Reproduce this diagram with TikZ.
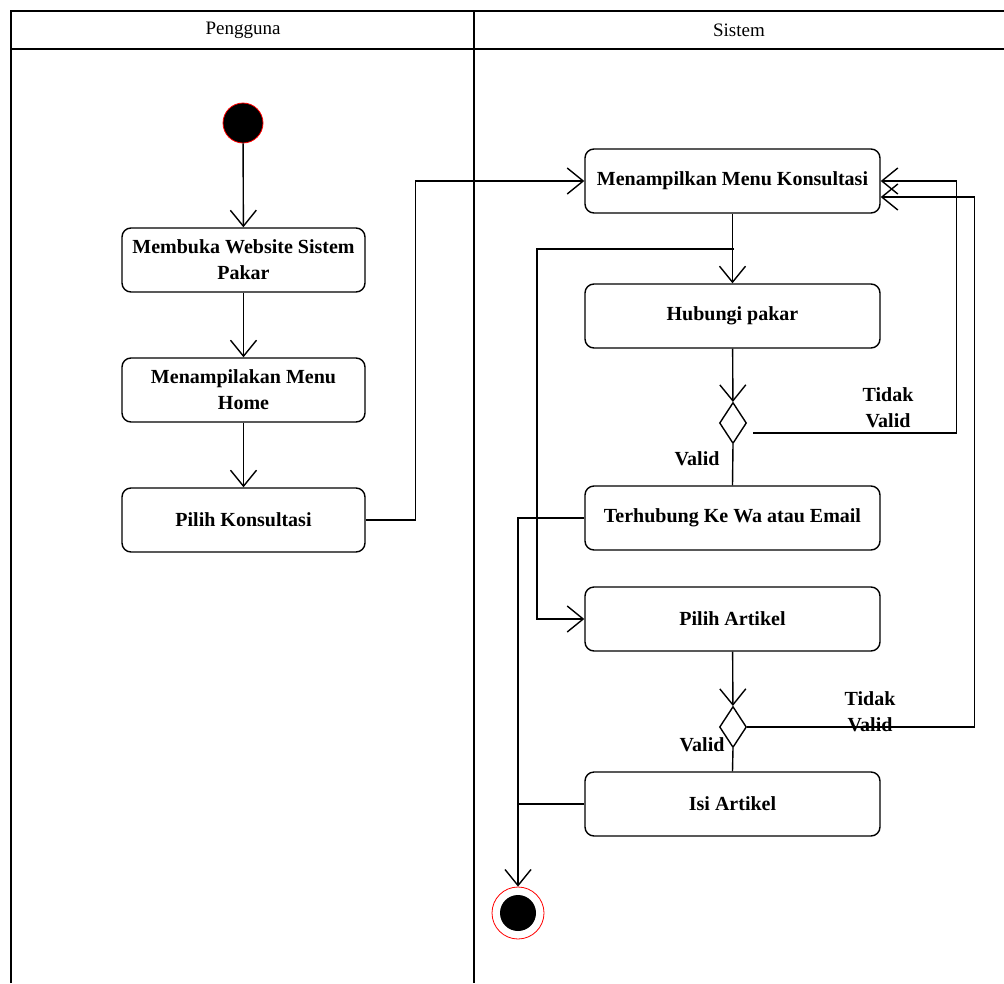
\documentclass[tikz,border=0pt]{standalone}
\usepackage{fontspec}
\setmainfont{Liberation Serif}
\usetikzlibrary{arrows.meta,shapes.geometric}
\begin{document}
\begin{tikzpicture}[x=1pt,y=-1pt,line width=1.4pt,
  >={Straight Barb[length=16pt,width=26pt]},
  act/.style={draw,rounded corners=9pt,align=center,inner sep=2pt,
    font=\bfseries\fontsize{20}{26}\selectfont},
  lact/.style={act,minimum width=243pt,minimum height=64pt},
  ract/.style={act,minimum width=295pt,minimum height=64pt},
  dec/.style={draw,diamond,minimum width=27pt,minimum height=41pt,inner sep=0pt},
  lbl/.style={align=center,font=\bfseries\fontsize{20}{26}\selectfont,inner sep=0pt},
  hdr/.style={font=\fontsize{19}{22}\selectfont}]
\useasboundingbox (0,0) rectangle (1004,983);
% swimlanes
\draw[line width=1.8pt] (11,983) -- (11,11) -- (1004,11);
\draw[line width=1.8pt] (11,49) -- (1004,49);
\draw[line width=1.8pt] (474,11) -- (474,983);
\node[hdr] (h1) at (243,30) {Pengguna};
\node[hdr] (h2) at (739,30) {Sistem};
% nodes
\node[circle,fill=black,draw=red,line width=0.8pt,minimum size=40pt,inner sep=0pt] (start) at (243,123) {};
\node[lact] (b1) at (243.5,260) {Membuka Website Sistem\\Pakar};
\node[lact] (b2) at (243.5,390) {Menampilakan Menu\\Home};
\node[lact] (b3) at (243.5,520) {Pilih Konsultasi};
\node[ract] (mmk) at (732.5,181) {Menampilkan Menu Konsultasi};
\node[ract] (hp) at (732.5,316) {Hubungi pakar};
\node[dec] (d1) at (733,423) {};
\node[ract] (t) at (732.5,518) {Terhubung Ke Wa atau Email};
\node[ract] (pa) at (732.5,619) {Pilih Artikel};
\node[dec] (d2) at (733,727) {};
\node[ract] (ia) at (732.5,804) {Isi Artikel};
\node[circle,draw=red,fill=white,line width=0.8pt,minimum size=52pt,inner sep=0pt] (end) at (518,913) {};
\node[circle,fill=black,minimum size=36pt,inner sep=0pt] (endin) at (end.center) {};
% labels
\node[lbl] (l1) at (888,408) {Tidak\\Valid};
\node[lbl] (l2) at (697,459) {Valid};
\node[lbl] (l3) at (870,712) {Tidak\\Valid};
\node[lbl] (l4) at (702,745) {Valid};
% connectors
\draw[->] (start) -- (b1);
\draw[->] (b1) -- (b2);
\draw[->] (b2) -- (b3);
\draw[->] (b3.east) -- ++(50,0) |- (mmk.west);
\draw[->] (mmk) -- (hp);
\coordinate (br) at (734,249);
\draw[->] (br) -- ++(-197,0) |- (pa.west);
\draw[->] (hp) -- (d1);
\draw[->] ([shift={(6pt,-10pt)}]d1.east) -- ++(203,0) |- (mmk.east);
\draw[->] (d2.east) -- ++(227,0) |- ([yshift=-16pt]mmk.east);
\draw (d1.south) -- (t.north);
\draw[->] (t.west) -| (end.north);
\draw (ia.west) -- (ia.west -| end);
\draw[->] (pa) -- (d2);
\draw (d2.south) -- (ia.north);
\end{tikzpicture}
\end{document}
